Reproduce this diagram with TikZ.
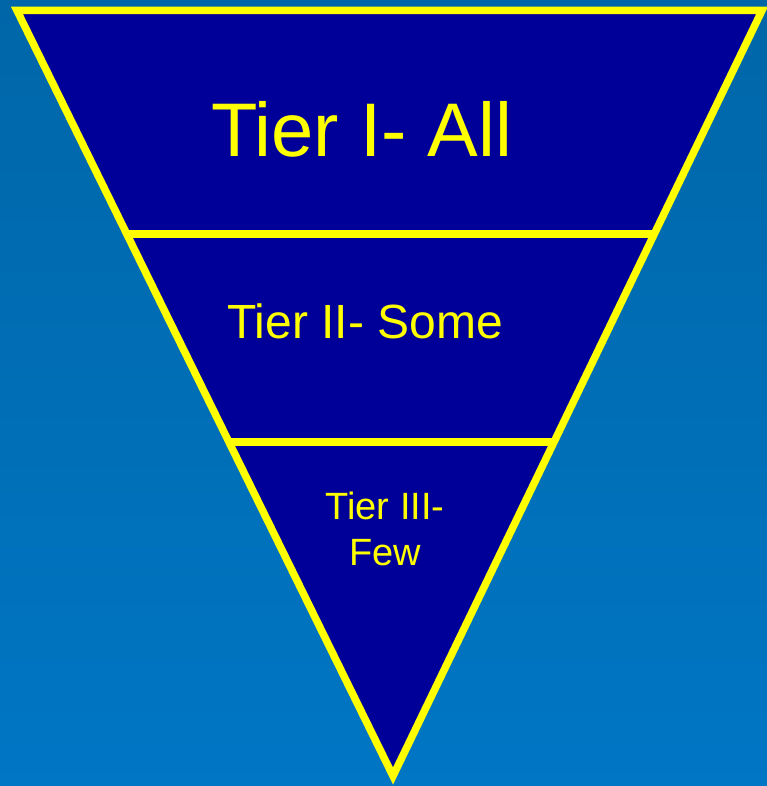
\documentclass[tikz,border=0pt]{standalone}
\usepackage{fontspec}
\setmainfont{Liberation Sans}
\usetikzlibrary{calc}
\definecolor{bgtop}{RGB}{0,102,168}
\definecolor{bgbot}{RGB}{0,118,196}
\definecolor{tierfill}{RGB}{0,0,153}
\definecolor{tieryellow}{RGB}{255,255,0}
\tikzset{
  outline/.style={draw=tieryellow, line width=7.5pt, line join=miter, miter limit=20},
  label/.style={text=tieryellow, inner sep=0pt, anchor=base west}
}
\begin{document}
\begin{tikzpicture}[x=1pt,y=-1pt]
\shade[top color=bgtop, bottom color=bgbot] (0,0) rectangle (767,786);
\useasboundingbox (0,0) rectangle (767,786);
\coordinate (tl) at (17,10.5);
\coordinate (tr) at (762,10.5);
\coordinate (ap) at (393,776);
\filldraw[outline, fill=tierfill] (tl) -- (tr) -- (ap) -- cycle;
\coordinate (a1) at ($(tl)!0.292!(ap)$);
\coordinate (b1) at ($(tr)!0.292!(ap)$);
\coordinate (a2) at ($(tl)!0.5637!(ap)$);
\coordinate (b2) at ($(tr)!0.5637!(ap)$);
\draw[outline] (a1) -- (b1);
\draw[outline] (a2) -- (b2);
\node[label] (t1) at (211,157) {\fontsize{76}{80}\selectfont Tier I- All};
\node[label] (t2) at (227,338) {\fontsize{48}{52}\selectfont Tier II- Some};
\node[label, anchor=base] (t3a) at (385,519) {\fontsize{38}{42}\selectfont Tier III-};
\node[label, anchor=base] (t3b) at (385,565) {\fontsize{38}{42}\selectfont Few};
\end{tikzpicture}
\end{document}
